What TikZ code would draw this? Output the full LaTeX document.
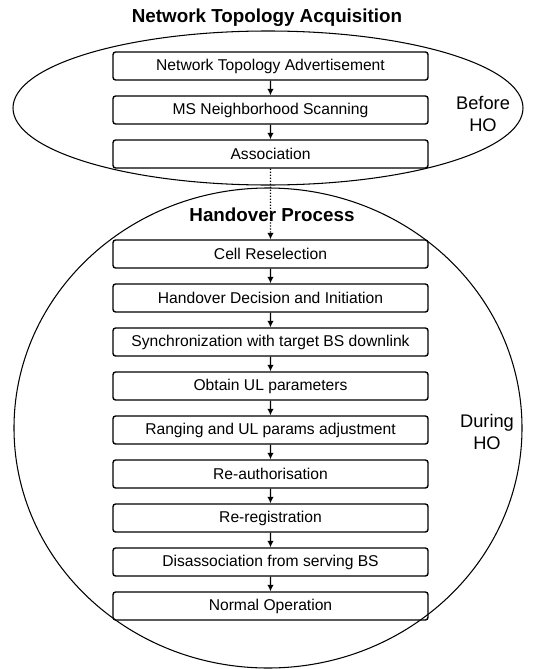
\documentclass[tikz,border=0pt]{standalone}
\usepackage{fontspec}
\setmainfont{Liberation Sans}
\usetikzlibrary{arrows.meta}
\begin{document}
\begin{tikzpicture}[scale=0.2]
                \tikzstyle{every node}+=[inner sep=0pt]
                \tikzstyle{stage}=[draw=black, line width=0.8pt, rounded corners=1.5pt, minimum width=6.3cm, minimum height=0.56cm, font=\fontsize{8.9}{10}\selectfont]
                \tikzstyle{flow}=[black, line width=0.7pt, -{Latex[length=1.3mm,width=1.3mm]}]
                \tikzstyle{phase}=[font=\fontsize{10.7}{12}\selectfont\bfseries]
                \tikzstyle{side}=[align=center, font=\fontsize{10.4}{12.5}\selectfont]
                \useasboundingbox (0,0) rectangle (55.3,-66.9);
                \draw [black, line width=0.6pt] (26.8,-10.8) ellipse (25.5 and 7.7);
                \draw [black, line width=0.6pt] (26.8,-42.8) ellipse (25.4 and 24);
                \draw (26.7,-1.8) node [phase] {Network Topology Acquisition};
                \draw (48.3,-11.4) node [side] {Before\\HO};
                \draw (48.7,-43.2) node [side] {During\\HO};
                \node [stage] (nta) at (27.05,-6.6) {Network Topology Advertisement};
                \node [stage] (scan) at (27.05,-11) {MS Neighborhood Scanning};
                \node [stage] (assoc) at (27.05,-15.4) {Association};
                \node [stage] (cell) at (27.05,-25.4) {Cell Reselection};
                \node [stage] (hodec) at (27.05,-29.8) {Handover Decision and Initiation};
                \node [stage] (sync) at (27.05,-34.2) {Synchronization with target BS downlink};
                \node [stage] (ulpar) at (27.05,-38.6) {Obtain UL parameters};
                \node [stage] (rang) at (27.05,-43) {Ranging and UL params adjustment};
                \node [stage] (reauth) at (27.05,-47.4) {Re-authorisation};
                \node [stage] (rereg) at (27.05,-51.8) {Re-registration};
                \node [stage] (disas) at (27.05,-56.2) {Disassociation from serving BS};
                \node [stage] (normal) at (27.05,-60.6) {Normal Operation};
                \draw (27.2,-21.5) node [phase] {Handover Process};
                \foreach \a/\b in {nta/scan, scan/assoc, cell/hodec, hodec/sync, sync/ulpar, ulpar/rang, rang/reauth, reauth/rereg, rereg/disas, disas/normal}
                  \draw [flow] (\a) -- (\b);
                \draw [flow, densely dotted] (assoc) -- (cell);
              \end{tikzpicture}
\end{document}
